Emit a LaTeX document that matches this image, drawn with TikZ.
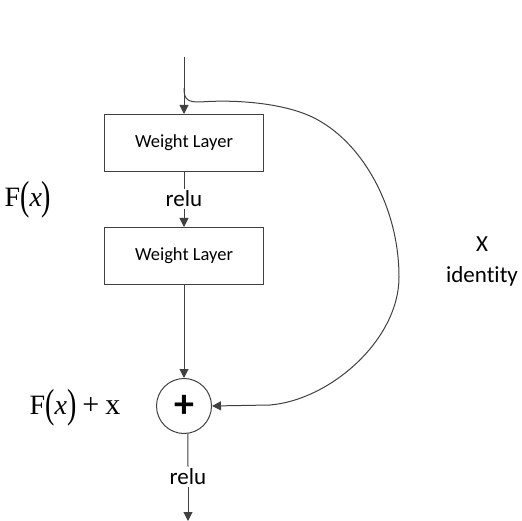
\documentclass[tikz,border=0pt]{standalone}
\usepackage{fontspec}
\setmainfont{Carlito}[Ligatures=NoCommon]
\newfontfamily\timesfont{Liberation Serif}
\usetikzlibrary{arrows.meta}
\definecolor{linegray}{HTML}{404040}
\tikzset{
 layer/.style={draw=linegray, line width=1pt, minimum width=159pt, minimum height=57pt, font=\fontsize{18.5}{20}\selectfont},
 act/.style={font=\fontsize{23}{25}\selectfont, inner sep=2pt},
 plain/.style={draw=linegray, line width=1pt},
 flow/.style={plain, -{Triangle[length=9pt,width=9pt]}},
 eqn/.style={font=\timesfont\fontsize{28}{30}\selectfont, inner sep=0pt}
}
\newcommand{\tallparen}[1]{\raisebox{-3pt}{\scalebox{1}[1.45]{#1}}}

\begin{document}
\begin{tikzpicture}[x=1pt, y=-1pt]
 \useasboundingbox (0,0) rectangle (522,521);
%
 \coordinate (in) at (184,57);
 \coordinate (split) at (184,88);
 \node[layer] (wl1) at (184,143) {Weight Layer};
 \node[act] (relu1) at (184,199) {relu};
 \node[layer] (wl2) at (184,256) {Weight Layer};
 \node[circle, draw=linegray, line width=1pt, minimum size=55pt, inner sep=0pt, font=\bfseries\fontsize{40}{40}\selectfont] (sum) at (184,406) {+};
 \node[act] (relu2) at (188,477) {relu};
 \coordinate (out) at (188,521);
%
 \draw[flow] (in) -- (wl1);
 \draw[plain] (wl1) -- (relu1);
 \draw[flow] (relu1) -- (wl2);
 \draw[flow] (wl2) -- (sum);
 \draw[plain] (sum.-82) -- (relu2.north);
 \draw[flow] (relu2) -- (out);
%
 \draw[flow] (split) .. controls (184,100) and (188,102) .. (200,102)
  .. controls (240,99) and (290,104) .. (318,120)
  .. controls (365,146) and (399,210) .. (399,277)
  .. controls (399,340) and (330,400) .. (270,405)
  -- (sum.east);
%
 \node[eqn] (fx) at (28,200) {F\tallparen{(}\textit{x}\tallparen{)}};
 \node[eqn] (fxx) at (75,408) {F\tallparen{(}\textit{x}\tallparen{)}\kern6pt\fontsize{30}{30}\selectfont+\kern6pt x};
 \node[act] (idx) at (482,244) {X};
 \node[act] (idname) at (482,276) {identity};
\end{tikzpicture}
\end{document}
